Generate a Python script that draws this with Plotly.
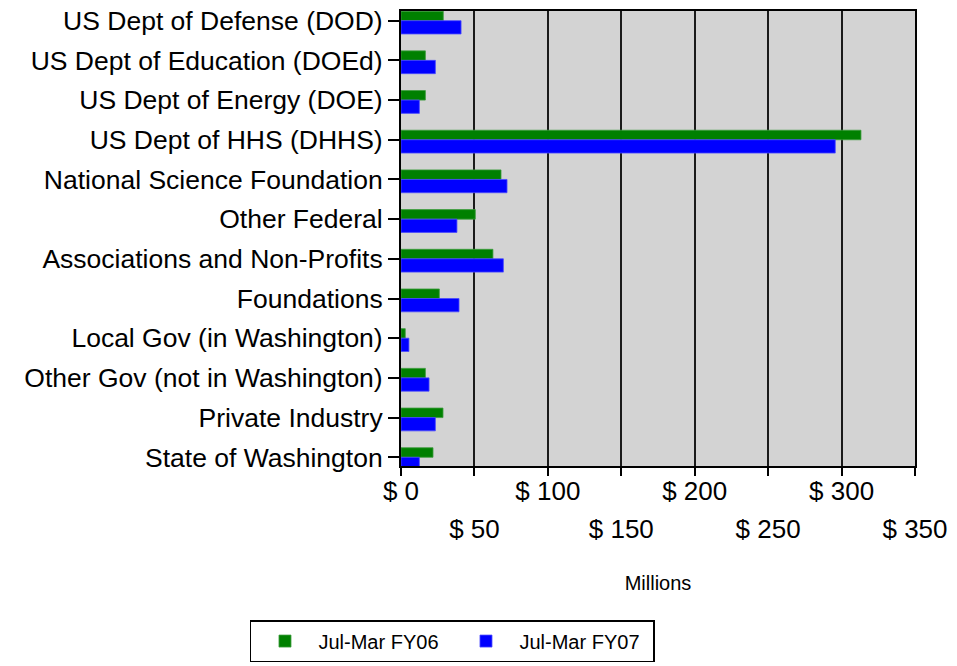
import plotly.graph_objects as go

categories = [
    "US Dept of Defense (DOD)",
    "US Dept of Education (DOEd)",
    "US Dept of Energy (DOE)",
    "US Dept of HHS (DHHS)",
    "National Science Foundation",
    "Other Federal",
    "Associations and Non-Profits",
    "Foundations",
    "Local Gov (in Washington)",
    "Other Gov (not in Washington)",
    "Private Industry",
    "State of Washington",
]
fy06 = [28.8, 16.6, 16.6, 313.2, 68.1, 50.6, 62.6, 26.1, 2.9, 16.6, 28.6, 21.8]
fy07 = [40.9, 23.4, 12.5, 295.7, 72.2, 38.1, 69.7, 39.5, 5.4, 19.1, 23.4, 12.5]
series_names = ["Jul-Mar FY06", "Jul-Mar FY07"]
tick_vals_row1 = [0, 100, 200, 300]
tick_labels_row1 = ["$ 0", "$ 100", "$ 200", "$ 300"]
tick_vals_row2 = [50, 150, 250, 350]
tick_labels_row2 = ["$ 50", "$ 150", "$ 250", "$ 350"]
all_ticks = [0, 50, 100, 150, 200, 250, 300, 350]

FONT = "Liberation Sans, Arial, sans-serif"

fig = go.Figure()
fig.add_trace(go.Bar(
    y=categories, x=fy06, name=series_names[0], orientation="h",
    marker=dict(color="#008000", line=dict(color="#3c9c3c", width=0.8)),
    offset=-0.24, width=0.24, xaxis="x", yaxis="y",
))
fig.add_trace(go.Bar(
    y=categories, x=fy07, name=series_names[1], orientation="h",
    marker=dict(color="#0000FF", line=dict(color="#4a4aff", width=0.8)),
    offset=0.0, width=0.335, xaxis="x2", yaxis="y",
))

row1_map = dict(zip(tick_vals_row1, tick_labels_row1))
fig.update_layout(
    width=949, height=658,
    margin=dict(l=393, r=42, t=3, b=200, autoexpand=False),
    paper_bgcolor="white",
    plot_bgcolor="#D3D3D3",
    font=dict(family=FONT, color="black"),
    showlegend=True,
    legend=dict(
        orientation="h", x=-0.2938, xanchor="left", y=-0.3386, yanchor="top",
        bordercolor="black", borderwidth=1.5, bgcolor="white",
        font=dict(size=20, family=FONT), itemwidth=57, entrywidth=129,
        traceorder="normal",
    ),
    xaxis=dict(
        range=[0, 350], tickvals=all_ticks,
        ticktext=[row1_map.get(v, "") for v in all_ticks],
        ticks="outside", ticklen=8, tickwidth=1.5, tickcolor="black",
        ticklabelstandoff=-7,
        tickfont=dict(size=26, family=FONT),
        showgrid=True, gridcolor="#1a1a1a", gridwidth=2,
        showline=True, linecolor="black", linewidth=2, mirror=True,
        zeroline=False, automargin=False,
    ),
    xaxis2=dict(
        range=[0, 350], overlaying="x", side="bottom",
        tickvals=tick_vals_row2, ticktext=tick_labels_row2,
        ticks="outside", ticklen=8, tickcolor="rgba(0,0,0,0)",
        ticklabelstandoff=32,
        tickfont=dict(size=26, family=FONT),
        showgrid=False, showline=False, zeroline=False, automargin=False,
        title=dict(text="Millions", font=dict(size=20, family=FONT), standoff=32),
    ),
    yaxis=dict(
        type="category", categoryorder="array", categoryarray=categories,
        range=[11.22, -0.244],
        ticks="outside", ticklen=11, tickwidth=1.5, tickcolor="black",
        tickfont=dict(size=26.5, family=FONT),
        showline=True, linecolor="black", linewidth=2, mirror=True,
        showgrid=False, zeroline=False, automargin=False,
    ),
)

fig.write_html("out.html")
